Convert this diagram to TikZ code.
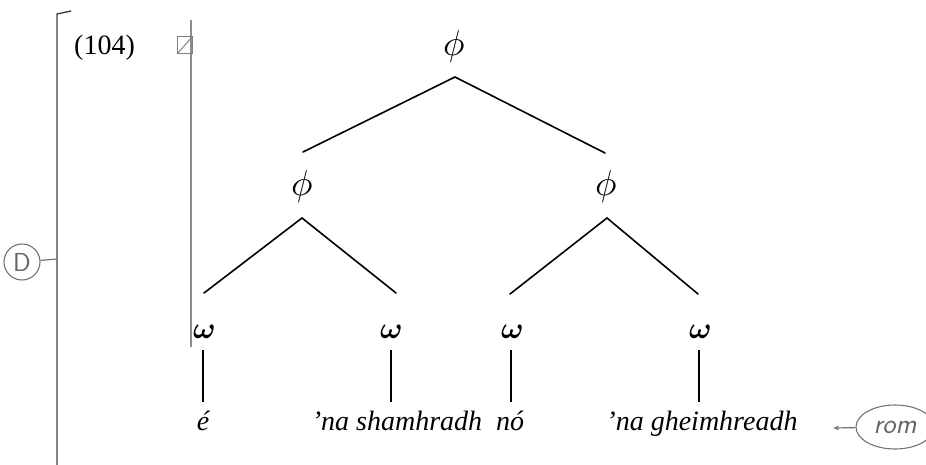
\documentclass[tikz,border=0pt]{standalone}
\usepackage{fontspec}
\usepackage{unicode-math}
\setmainfont{Liberation Serif}
\setmathfont{Latin Modern Math}
\usetikzlibrary{calc,arrows.meta,shapes.geometric}
\begin{document}
\begin{tikzpicture}[x=1pt,y=-1pt,
  lab/.style={inner sep=0pt, anchor=base, font=\fontsize{30}{33}\selectfont},
  phil/.style={inner sep=0pt, anchor=base, font=\fontsize{36}{40}\selectfont},
  leaf/.style={inner sep=0pt, anchor=base, font=\fontsize{28}{33}\selectfont\itshape},
  branch/.style={line width=1.6pt, line cap=round},
  bar/.style={line width=2pt},
  hand/.style={black!55, line width=1.2pt},
]
\useasboundingbox (0,0) rectangle (926,465);

% tree nodes
\node[phil] (top) at (454,56) {$\phi$};
\node[phil] (pl) at (302,196) {$\phi$};
\node[phil] (pr) at (606,196) {$\phi$};
\node[lab] (w1) at (204,338) {$\symbfit{\omega}$};
\node[lab] (w2) at (391,338) {$\symbfit{\omega}$};
\node[lab] (w3) at (512,338) {$\symbfit{\omega}$};
\node[lab] (w4) at (700,338) {$\symbfit{\omega}$};

% leaves
\node[leaf] (l1) at (203,430) {é};
\node[leaf] (l2) at (397,430) {’na shamhradh};
\node[leaf] (l3) at (510,430) {nó};
\node[leaf] (l4) at (702,430) {’na gheimhreadh};

% example number
\node[inner sep=0pt, anchor=base west, font=\fontsize{28}{33}\selectfont] (num) at (74,55) {(104)};

% branches
\draw[branch] ($(top.base)+(1,21)$) -- ($(pl.base)+(1,-44)$);
\draw[branch] ($(top.base)+(1,21)$) -- ($(pr.base)+(-1,-43)$);
\draw[branch] ($(pl.base)+(0,22)$) -- ($(w1.base)+(0,-45)$);
\draw[branch] ($(pl.base)+(0,22)$) -- ($(w2.base)+(5,-45)$);
\draw[branch] ($(pr.base)+(1,22)$) -- ($(w3.base)+(-2,-44)$);
\draw[branch] ($(pr.base)+(1,22)$) -- ($(w4.base)+(-2,-44)$);

% vertical bars
\draw[bar] ($(w1.base)+(-1,12)$) -- ($(w1.base |- l1.base)+(-1,-28)$);
\draw[bar] ($(w2.base)+(0,12)$) -- ($(w2.base |- l2.base)+(0,-28)$);
\draw[bar] ($(w3.base)+(-1,12)$) -- ($(w3.base |- l3.base)+(-1,-28)$);
\draw[bar] ($(w4.base)+(-1,12)$) -- ($(w4.base |- l4.base)+(-1,-28)$);

% handwritten annotations
\draw[hand, black!75, line width=1.4pt] (57,465) -- (57,14) -- (71,11);
\draw[hand, black!45, line width=1.5pt] (191,20) -- (191,347);
\node[draw=black!50, line width=1pt, minimum width=15pt, minimum height=17pt, inner sep=0pt] (chk) at (185,45) {};
\draw[black!50, line width=1pt] (chk.south west) -- (chk.north east);
\node[circle, draw=black!55, line width=1.1pt, minimum size=36pt, inner sep=0pt, text=black!60,
      font=\sffamily\fontsize{26}{26}\selectfont] (dmark) at (22,262) {D};
\coordinate (dline) at (57,259);
\draw[hand] (dmark) -- (dline);
\node[ellipse, draw=black!55, line width=1.1pt, minimum width=78pt, minimum height=44pt, inner sep=0pt,
      text=black!60, font=\sffamily\itshape\fontsize{28}{28}\selectfont] (rom) at (895,427) {rom};
\coordinate (arr) at (833,428);
\draw[hand, -{Stealth[length=6pt]}] (rom) -- (arr);
\end{tikzpicture}
\end{document}
